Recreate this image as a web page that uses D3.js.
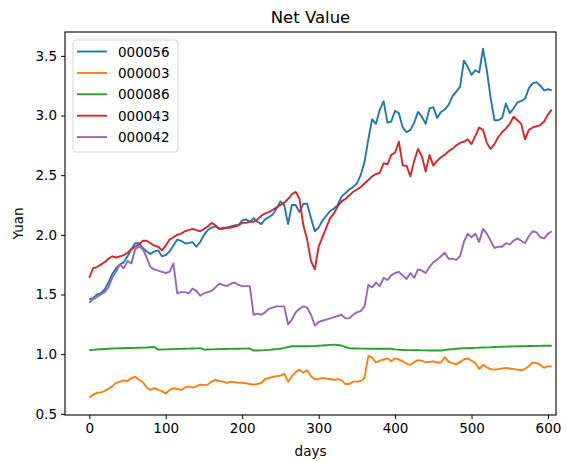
<!DOCTYPE html>
<html lang="en">
<head>
<meta charset="utf-8" />
<title>Net Value</title>
<style>
  body { margin: 0; background: #fff; font-family: "DejaVu Sans", sans-serif; }
  .tick text { font-size: 13.5px; fill: #000; }
</style>
</head>
<body>
<div id="chart"></div>
<script src="https://cdn.jsdelivr.net/npm/d3@7"></script>
<script>

// sampled every 5 days (0 .. 605)
var days = d3.range(0, 606, 5);

var codes = ["000056", "000003", "000086", "000043", "000042"];
var colors = ["#1f77b4", "#ff7f0e", "#2ca02c", "#d62728", "#9467bd"];

var fund_000056 = [1.46,1.47,1.50,1.51,1.54,1.60,1.67,1.72,1.75,1.77,1.82,1.88,1.93,1.93,1.89,1.86,1.84,1.86,1.87,1.82,
  1.83,1.86,1.91,1.96,1.95,1.93,1.93,1.94,1.90,1.94,2.00,2.04,2.06,2.07,2.05,2.05,2.06,2.07,2.08,2.08,
  2.12,2.13,2.11,2.14,2.11,2.09,2.13,2.15,2.17,2.22,2.28,2.25,2.09,2.25,2.25,2.19,2.26,2.26,2.14,2.03,
  2.06,2.12,2.16,2.20,2.22,2.25,2.32,2.35,2.38,2.40,2.43,2.50,2.61,2.80,2.97,2.93,3.05,3.12,2.94,2.95,
  3.04,3.02,2.90,2.86,2.88,2.94,3.03,2.99,2.93,3.06,3.07,2.98,3.03,3.05,3.09,3.16,3.20,3.24,3.46,3.41,
  3.34,3.38,3.36,3.56,3.38,3.15,2.96,2.96,2.98,3.10,3.02,3.06,3.11,3.12,3.14,3.23,3.27,3.28,3.25,3.21,
  3.22,3.21];

var fund_000003 = [0.634,0.66,0.676,0.68,0.69,0.71,0.73,0.76,0.77,0.78,0.775,0.80,0.81,0.785,0.765,0.72,0.70,0.715,0.70,0.69,
  0.67,0.70,0.715,0.71,0.70,0.72,0.73,0.72,0.73,0.745,0.74,0.745,0.77,0.785,0.775,0.77,0.76,0.77,0.765,0.76,
  0.76,0.755,0.75,0.745,0.75,0.76,0.79,0.80,0.81,0.815,0.82,0.835,0.77,0.815,0.85,0.87,0.845,0.865,0.815,0.79,
  0.79,0.80,0.795,0.79,0.785,0.79,0.78,0.75,0.75,0.77,0.77,0.775,0.80,0.985,0.97,0.93,0.945,0.955,0.965,0.94,
  0.965,0.955,0.94,0.92,0.91,0.935,0.95,0.945,0.93,0.935,0.94,0.93,0.93,0.975,0.935,0.925,0.915,0.935,0.955,0.965,
  0.945,0.925,0.875,0.91,0.89,0.875,0.87,0.875,0.88,0.885,0.88,0.875,0.87,0.865,0.875,0.90,0.93,0.925,0.91,0.885,
  0.90,0.895];

var fund_000086 = [1.033,1.036,1.039,1.041,1.043,1.045,1.047,1.048,1.049,1.050,1.051,1.052,1.053,1.054,1.055,1.056,1.058,1.060,1.038,1.039,
  1.040,1.041,1.042,1.043,1.044,1.045,1.046,1.047,1.048,1.050,1.038,1.039,1.040,1.041,1.042,1.043,1.043,1.044,1.045,1.045,
  1.046,1.046,1.047,1.030,1.031,1.032,1.034,1.036,1.039,1.042,1.045,1.052,1.060,1.066,1.066,1.066,1.066,1.066,1.067,1.068,
  1.070,1.072,1.075,1.078,1.080,1.077,1.072,1.060,1.050,1.047,1.047,1.046,1.046,1.045,1.045,1.045,1.045,1.045,1.045,1.045,
  1.040,1.036,1.035,1.034,1.034,1.033,1.033,1.032,1.032,1.031,1.031,1.030,1.030,1.036,1.039,1.042,1.045,1.047,1.049,1.050,
  1.052,1.053,1.055,1.056,1.057,1.058,1.060,1.061,1.062,1.063,1.064,1.065,1.066,1.066,1.067,1.068,1.068,1.069,1.069,1.070,
  1.070,1.070];

var fund_000043 = [1.64,1.72,1.73,1.75,1.77,1.80,1.82,1.81,1.82,1.83,1.85,1.88,1.90,1.92,1.95,1.95,1.93,1.91,1.90,1.87,
  1.91,1.96,1.98,2.00,2.01,2.03,2.04,2.05,2.04,2.03,2.05,2.07,2.10,2.08,2.05,2.06,2.06,2.06,2.07,2.08,
  2.10,2.10,2.11,2.11,2.13,2.16,2.18,2.19,2.21,2.23,2.25,2.27,2.30,2.34,2.36,2.30,2.08,1.96,1.78,1.71,
  1.90,1.98,2.06,2.14,2.18,2.24,2.28,2.30,2.33,2.36,2.38,2.40,2.43,2.46,2.49,2.51,2.52,2.60,2.59,2.67,
  2.69,2.78,2.58,2.58,2.49,2.62,2.72,2.66,2.53,2.67,2.58,2.62,2.65,2.67,2.70,2.72,2.75,2.77,2.78,2.80,
  2.76,2.83,2.90,2.88,2.77,2.72,2.76,2.82,2.86,2.89,2.93,2.99,2.96,2.93,2.80,2.88,2.90,2.91,2.92,2.95,
  3.01,3.05];

var fund_000042 = [1.43,1.46,1.48,1.50,1.52,1.56,1.64,1.69,1.75,1.72,1.78,1.76,1.88,1.90,1.88,1.81,1.73,1.71,1.70,1.69,
  1.68,1.69,1.76,1.51,1.52,1.52,1.51,1.55,1.53,1.49,1.51,1.52,1.53,1.56,1.59,1.58,1.57,1.59,1.60,1.58,
  1.57,1.57,1.57,1.33,1.34,1.33,1.35,1.38,1.39,1.40,1.40,1.40,1.25,1.29,1.35,1.38,1.40,1.39,1.33,1.24,
  1.27,1.28,1.29,1.30,1.31,1.32,1.33,1.30,1.30,1.33,1.35,1.36,1.40,1.58,1.56,1.60,1.57,1.64,1.62,1.66,
  1.68,1.69,1.66,1.63,1.68,1.64,1.71,1.70,1.68,1.73,1.77,1.79,1.82,1.85,1.80,1.80,1.79,1.82,1.94,2.01,
  1.98,2.01,1.94,2.05,2.01,1.95,1.89,1.90,1.90,1.93,1.92,1.95,1.97,1.95,1.93,1.99,2.03,2.02,1.98,1.97,
  2.01,2.03];

var xTicks = [0, 100, 200, 300, 400, 500, 600];
var yTicks = [0.5, 1.0, 1.5, 2.0, 2.5, 3.0, 3.5];

var series = [fund_000056, fund_000003, fund_000086, fund_000043, fund_000042];

var width = 566, height = 461;
var plotLeft = 65, plotRight = 556, plotTop = 32, plotBottom = 415;

var svg = d3.select("#chart").append("svg")
    .attr("width", width)
    .attr("height", height);

var x = d3.scaleLinear().domain([-31.8, 610.5]).range([plotLeft, plotRight]);
var y = d3.scaleLinear().domain([0.49, 3.70]).range([plotBottom, plotTop]);

var line = d3.line()
    .x(function(d, i) { return x(days[i]); })
    .y(function(d) { return y(d); });

series.forEach(function(vals, k) {
  svg.append("path")
     .datum(vals)
     .attr("fill", "none")
     .attr("stroke", colors[k])
     .attr("stroke-width", 1.9)
     .attr("stroke-linejoin", "round")
     .attr("d", line);
});

// axes
var xAxis = svg.append("g")
    .attr("transform", "translate(0," + plotBottom + ")")
    .call(d3.axisBottom(x).tickValues(xTicks).tickSize(4).tickPadding(4).tickFormat(d3.format("d")));
var yAxis = svg.append("g")
    .attr("transform", "translate(" + plotLeft + ",0)")
    .call(d3.axisLeft(y).tickValues(yTicks).tickSize(4).tickPadding(4).tickFormat(d3.format(".1f")));
[xAxis, yAxis].forEach(function(g) {
  g.select(".domain").remove();
  g.selectAll(".tick line").attr("stroke", "#000");
  g.selectAll(".tick text").attr("font-family", "DejaVu Sans");
});

svg.append("rect")
   .attr("x", plotLeft).attr("y", plotTop)
   .attr("width", plotRight - plotLeft).attr("height", plotBottom - plotTop)
   .attr("fill", "none")
   .attr("stroke", "#000")
   .attr("stroke-width", 1.1);

svg.append("text")
   .attr("x", (plotLeft + plotRight) / 2).attr("y", 23)
   .attr("text-anchor", "middle")
   .attr("font-size", 16.5)
   .text("Net Value");

svg.append("text")
   .attr("x", (plotLeft + plotRight) / 2).attr("y", 456)
   .attr("text-anchor", "middle")
   .attr("font-size", 13.5)
   .text("days");

svg.append("text")
   .attr("transform", "translate(23," + ((plotTop + plotBottom) / 2) + ") rotate(-90)")
   .attr("text-anchor", "middle")
   .attr("font-size", 13.5)
   .text("Yuan");

// legend
var legend = svg.append("g").attr("transform", "translate(73,40)");
legend.append("rect")
   .attr("width", 105).attr("height", 112)
   .attr("rx", 3)
   .attr("fill", "#fff").attr("fill-opacity", 0.8)
   .attr("stroke", "#d6d6d6");
codes.forEach(function(c, k) {
  var yy = 11.5 + k * 21.4;
  legend.append("line")
     .attr("x1", 4).attr("x2", 34)
     .attr("y1", yy).attr("y2", yy)
     .attr("stroke", colors[k]).attr("stroke-width", 1.9);
  legend.append("text")
     .attr("x", 45).attr("y", yy + 5)
     .attr("font-size", 13.5)
     .text(c);
});

</script>
</body>
</html>
